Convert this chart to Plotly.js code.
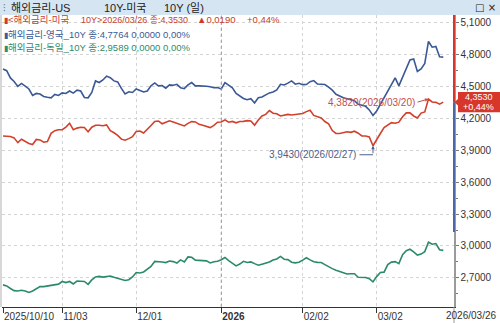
<!DOCTYPE html>
<html><head><meta charset="utf-8">
<script src="https://cdn.plot.ly/plotly-3.0.1.min.js"></script>
<style>html,body{margin:0;padding:0;background:#fff}#c{width:500px;height:323px}</style>
</head><body><div id="c"></div>
<script>
// weekday calendar 2025-10-10 .. 2026-03-26 (categories)
function weekdays(a,b){var out=[],d=new Date(a+'T00:00:00Z'),e=new Date(b+'T00:00:00Z');
 while(d<=e){var w=d.getUTCDay();if(w!==0&&w!==6)out.push(d.toISOString().slice(0,10));d.setUTCDate(d.getUTCDate()+1);}return out;}
var dates = weekdays('2025-10-10','2026-03-26');

var us10y = [4.035,4.035,4.030,4.017,3.972,4.004,3.982,3.965,3.954,4.002,3.998,3.976,3.982,4.060,4.085,4.094,4.094,4.119,4.155,4.094,
4.109,4.117,4.114,4.075,4.117,4.136,4.136,4.131,4.139,4.084,4.065,4.041,4.005,3.995,4.010,4.028,4.077,4.082,4.063,4.103,
4.134,4.171,4.176,4.150,4.164,4.178,4.167,4.153,4.137,4.129,4.154,4.170,4.167,4.144,4.135,4.126,4.114,4.134,4.164,4.167,
4.186,4.164,4.172,4.159,4.171,4.172,4.179,4.176,4.137,4.186,4.223,4.238,4.274,4.249,4.244,4.223,4.228,4.238,4.233,4.236,
4.238,4.247,4.264,4.277,4.228,4.214,4.204,4.171,4.149,4.086,4.059,4.058,4.066,4.074,4.069,4.080,4.061,4.035,4.035,4.026,
3.943,4.007,4.058,4.114,4.141,4.160,4.155,4.165,4.216,4.252,4.253,4.223,4.204,4.250,4.261,4.382,4.355,4.351,4.334,4.353];
var uk10y = [4.665,4.649,4.581,4.548,4.501,4.529,4.503,4.477,4.416,4.435,4.430,4.407,4.400,4.394,4.426,4.416,4.440,4.435,4.458,4.438,
4.466,4.458,4.397,4.394,4.444,4.553,4.538,4.562,4.598,4.583,4.553,4.543,4.482,4.430,4.451,4.444,4.477,4.461,4.449,4.458,
4.506,4.534,4.506,4.510,4.485,4.515,4.512,4.521,4.489,4.480,4.515,4.537,4.506,4.506,4.506,4.503,4.498,4.489,4.490,4.477,
4.537,4.512,4.487,4.435,4.407,4.388,4.376,4.386,4.346,4.395,4.402,4.421,4.440,4.449,4.468,4.521,4.515,4.532,4.553,4.522,
4.531,4.518,4.519,4.546,4.556,4.524,4.522,4.519,4.494,4.466,4.427,4.407,4.394,4.385,4.376,4.366,4.333,4.324,4.314,4.280,
4.228,4.270,4.331,4.393,4.452,4.518,4.581,4.506,4.590,4.684,4.750,4.760,4.642,4.665,4.717,4.924,4.870,4.877,4.781,4.7764];
var de10y = [2.634,2.624,2.600,2.580,2.577,2.583,2.577,2.563,2.577,2.598,2.618,2.618,2.623,2.632,2.639,2.641,2.666,2.656,2.666,2.643,
2.670,2.671,2.666,2.639,2.681,2.709,2.714,2.707,2.713,2.718,2.705,2.693,2.681,2.676,2.683,2.709,2.750,2.746,2.756,2.779,
2.808,2.855,2.855,2.849,2.844,2.858,2.853,2.839,2.869,2.850,2.897,2.894,2.867,2.862,2.862,2.860,2.841,2.852,2.857,2.871,
2.892,2.863,2.837,2.813,2.830,2.856,2.845,2.850,2.834,2.819,2.829,2.837,2.849,2.868,2.878,2.902,2.876,2.872,2.847,2.841,
2.847,2.867,2.889,2.869,2.852,2.846,2.844,2.825,2.804,2.787,2.772,2.760,2.744,2.737,2.739,2.739,2.706,2.706,2.704,2.693,
2.662,2.712,2.751,2.754,2.825,2.848,2.853,2.834,2.919,2.955,2.969,2.944,2.914,2.924,2.947,3.035,3.016,3.023,2.965,2.9589];

var tickDates  = ['2025-10-10','2025-11-03','2025-12-01','2026-01-01','2026-02-02','2026-03-02'];
var tickLabels = ['2025/10/10','11/03','12/01','<b>2026</b>','02/02','03/02'];
var lastLabel = '2026/03/26';
var maxDate = '2026-03-20', maxVal = 4.382, maxText = '4,3820(2026/03/20)';
var minDate = '2026-02-27', minVal = 3.943, minText = '3,9430(2026/02/27)';
var usLast = 4.353, usChgText = '+0,44%', usLastText = '4,3530';
var legendUSParts = ['<해외금리-미국', '10Y>2026/03/26 종:4,3530', '▲0,0190', '+0,44%'];
var legendUK = '해외금리-영국_10Y 종:4,7764 0,0000 0,00%';
var legendDE = '해외금리-독일_10Y 종:2,9589 0,0000 0,00%';
var titleParts = ['해외금리-US', '10Y-미국', '10Y (일)'];

var RED='#d2402c', BLUE='#3a5896', GREEN='#2b8a68';
var FONT='Liberation Sans, Noto Sans CJK KR, sans-serif';

var traces = [
 {x:dates,y:de10y,type:'scatter',mode:'lines',line:{color:GREEN,width:1.6},hoverinfo:'skip'},
 {x:dates,y:uk10y,type:'scatter',mode:'lines',line:{color:BLUE,width:1.6},hoverinfo:'skip'},
 {x:dates,y:us10y,type:'scatter',mode:'lines',line:{color:RED,width:1.6},hoverinfo:'skip'}
];

var PH=292, PW=452;
function px(x){return (x-2)/PW;}
function py(y){return (307-y)/PH;}
var bar=function(c){return '<span style="font-size:8px;color:'+c+'">▮</span>';};
var usC='#c8402e', ukC='#3d5a96', deC='#2f8a6a';

var ann = [
  {xref:'paper',yref:'paper',x:px(1),y:py(7.5),xanchor:'left',yanchor:'middle',showarrow:false,text:'⁝',font:{size:10,color:'#777'}},
  {xref:'paper',yref:'paper',x:px(9),y:py(7.5),xanchor:'left',yanchor:'middle',showarrow:false,text:titleParts[0],font:{family:FONT,size:11,color:'#222'}},
  {xref:'paper',yref:'paper',x:px(102),y:py(7.5),xanchor:'left',yanchor:'middle',showarrow:false,text:titleParts[1],font:{family:FONT,size:11,color:'#222'}},
  {xref:'paper',yref:'paper',x:px(162),y:py(7.5),xanchor:'left',yanchor:'middle',showarrow:false,text:titleParts[2],font:{family:FONT,size:11,color:'#222'}},
  {xref:'paper',yref:'paper',x:px(498),y:py(7.5),xanchor:'right',yanchor:'middle',showarrow:false,text:'□ ×',font:{family:'DejaVu Sans',size:10,color:'#222'}},
  {xref:'paper',yref:'paper',x:px(2),y:py(20),xanchor:'left',yanchor:'middle',showarrow:false,
   text:bar('#d7372a')+legendUSParts[0],font:{family:FONT,size:9.5,color:usC}},
  {xref:'paper',yref:'paper',x:px(79),y:py(20),xanchor:'left',yanchor:'middle',showarrow:false,
   text:legendUSParts[1],font:{family:FONT,size:9,color:usC}},
  {xref:'paper',yref:'paper',x:px(195),y:py(20),xanchor:'left',yanchor:'middle',showarrow:false,
   text:'<span style="color:#d7372a">'+legendUSParts[2].charAt(0)+'</span>'+legendUSParts[2].slice(1),font:{family:FONT,size:9.5,color:usC}},
  {xref:'paper',yref:'paper',x:px(245),y:py(20),xanchor:'left',yanchor:'middle',showarrow:false,
   text:legendUSParts[3],font:{family:FONT,size:9.5,color:usC}},
  {xref:'paper',yref:'paper',x:px(2),y:py(34),xanchor:'left',yanchor:'middle',showarrow:false,
   text:bar(ukC)+legendUK,font:{family:FONT,size:9.5,color:ukC}},
  {xref:'paper',yref:'paper',x:px(2),y:py(47),xanchor:'left',yanchor:'middle',showarrow:false,
   text:bar(deC)+legendDE,font:{family:FONT,size:9.5,color:deC}},
  {xref:'x',yref:'y',x:maxDate,y:maxVal,text:maxText,showarrow:true,ax:-11,ay:3,xanchor:'right',yanchor:'middle',
   arrowhead:2,arrowsize:0.7,arrowwidth:1,arrowcolor:'#c0504d',font:{family:FONT,size:10,color:'#c0504d'}},
  {xref:'x',yref:'y',x:minDate,y:minVal,text:minText,showarrow:false,xanchor:'right',yanchor:'middle',xshift:-15,yshift:-9,
   font:{family:FONT,size:10,color:'#4b5f8e'}},
  {xref:'x',yref:'y',x:minDate,y:minVal,text:'',showarrow:true,ax:-15,ay:0,yshift:-9,arrowhead:0,arrowwidth:1,arrowcolor:'#4b5f8e'},
  {xref:'x',yref:'y',x:minDate,y:minVal,text:'',showarrow:true,ax:0,ay:9,arrowhead:2,arrowsize:0.7,arrowwidth:1,arrowcolor:'#4b5f8e'},
  {xref:'paper',yref:'y',x:1+25/PW,y:usLast+0.045,xanchor:'center',yanchor:'middle',showarrow:false,text:usLastText,font:{family:FONT,size:9,color:'#fff'}},
  {xref:'paper',yref:'y',x:1+25/PW,y:usLast-0.05,xanchor:'center',yanchor:'middle',showarrow:false,text:usChgText,font:{family:FONT,size:9,color:'#fff'}},
  {xref:'paper',yref:'paper',x:px(498),y:py(315),xanchor:'right',yanchor:'middle',showarrow:false,text:lastLabel,font:{family:FONT,size:10,color:'#333'}}
];

var layout = {
 width:500,height:323,margin:{l:2,r:46,t:15,b:16},
 paper_bgcolor:'#fff',plot_bgcolor:'#fff',showlegend:false,
 separators:',.',
 font:{family:FONT,size:10,color:'#333'},
 xaxis:{type:'category',range:[-0.27,121.9],tickmode:'array',tickvals:tickDates,ticktext:tickLabels,
   ticklabelposition:'outside right',ticks:'outside',ticklen:5,tickcolor:'#333',
   showgrid:true,gridcolor:'#d4d4d4',griddash:'dot',gridwidth:1,
   showline:true,linecolor:'#333',linewidth:1,zeroline:false,
   tickfont:{family:FONT,size:10,color:'#333'}},
 yaxis:{side:'right',range:[2.426,5.173],tick0:2.7,dtick:0.3,tickformat:'.4f',
   ticks:'outside',ticklen:3,tickcolor:'#777',
   minor:{dtick:0.15,tick0:2.7,ticks:'outside',ticklen:2,tickcolor:'#777',showgrid:false},
   showgrid:true,gridcolor:'#d4d4d4',griddash:'dot',
   showline:true,linecolor:'#9a9a9a',linewidth:1.5,zeroline:false,
   tickfont:{family:FONT,size:10,color:'#333'}},
 shapes:[
  {type:'rect',xref:'paper',yref:'paper',x0:-2/PW,x1:1+46/PW,y0:1,y1:1+15/PH,fillcolor:'#d6e5f2',line:{width:0},layer:'above'},
  {type:'line',xref:'x',yref:'paper',x0:'2026-01-01',x1:'2026-01-01',y0:0,y1:1,line:{color:'#9a9a9a',width:1,dash:'dot'}},
  {type:'line',xref:'paper',yref:'paper',x0:1,x1:1,y0:-16/PH,y1:0,line:{color:'#9a9a9a',width:1}},
  {type:'line',xref:'paper',yref:'paper',x0:-1/PW,x1:-1/PW,y0:0,y1:1,line:{color:'#b0b0b0',width:1}},
  {type:'line',xref:'paper',yref:'y',x0:1,x1:1,y0:usLast,y1:5.173,line:{color:'#d7372a',width:2},layer:'above'},
  {type:'line',xref:'paper',yref:'y',x0:1,x1:1,y0:3.132,y1:usLast,line:{color:'#4a68a8',width:2},layer:'above'},
  {type:'rect',xref:'paper',yref:'y',x0:1+4/PW,x1:1+46/PW,y0:usLast-0.095,y1:usLast+0.095,fillcolor:'#d7372a',line:{width:0},layer:'above'},
  {type:'path',xref:'paper',yref:'y',path:'M '+(1+0.5/PW)+' '+usLast+' L '+(1+4.5/PW)+' '+(usLast+0.035)+' L '+(1+4.5/PW)+' '+(usLast-0.035)+' Z',fillcolor:'#d7372a',line:{width:0},layer:'above'}
 ],
 annotations:ann
};
Plotly.newPlot('c',traces,layout,{displayModeBar:false,staticPlot:true});
</script></body></html>
